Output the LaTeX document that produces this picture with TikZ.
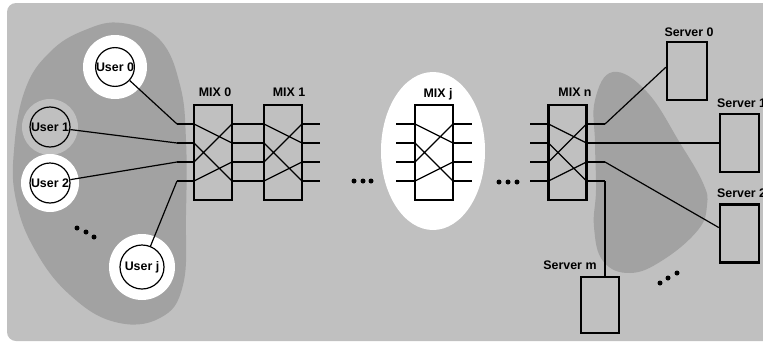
\documentclass[tikz,border=0pt]{standalone}
\usepackage{fontspec}
\setmainfont{Liberation Sans}
\usetikzlibrary{calc}
\definecolor{bgray}{HTML}{C0C0C0}
\definecolor{dgray}{HTML}{A2A2A2}
\begin{document}
\begin{tikzpicture}[x=1pt,y=-1pt,
  lbl/.style={font=\bfseries\fontsize{12.4}{14}\selectfont, inner sep=0pt},
  usernode/.style={circle, draw, line width=1.2pt, inner sep=0pt, fill=white, font=\bfseries\fontsize{12.4}{14}\selectfont},
  mixbox/.style={draw, line width=2.4pt, minimum width=38pt, minimum height=95pt, inner sep=0pt},
  srv/.style={draw, line width=2.4pt, minimum width=39pt, minimum height=58pt, inner sep=0pt},
  wire/.style={line width=1.2pt},
  dot/.style={circle, fill=black, inner sep=0pt, minimum size=5pt},
  pics/mix/.style={code={
    \node[mixbox] (-box) at (0,0) {};
    \coordinate (-l1) at (-19,-28.5); \coordinate (-l2) at (-19,-9.5);
    \coordinate (-l3) at (-19,9.5);   \coordinate (-l4) at (-19,28.5);
    \coordinate (-r1) at (19,-28.5);  \coordinate (-r2) at (19,-9.5);
    \coordinate (-r3) at (19,9.5);    \coordinate (-r4) at (19,28.5);
    \draw[wire] (-l1) -- (-r2) (-l2) -- (-r4) (-l3) -- (-r1) (-l4) -- (-r3);
  }}]
\useasboundingbox (0,0) rectangle (763,343);
\begin{scope}
\clip (0,0) rectangle (763,343);
\fill[bgray, rounded corners=9pt] (7,3) rectangle (790,341);
\end{scope}
% left blob
\fill[dgray] plot[smooth cycle, tension=0.7] coordinates {
  (14,150) (25,90) (50,52) (85,30) (122,23) (160,40) (180,85) (186,140)
  (186,215) (183,285) (160,318) (115,322) (70,295) (35,250) (16,200)};
% right blob
\fill[dgray] plot[smooth cycle, tension=0.7] coordinates {
  (613,72) (647,92) (680,143) (703,183) (707,205) (698,230) (663,260)
  (630,273) (603,261) (594,227) (596,190) (595,143) (595,100)};
% white ellipse around MIX j
\fill[white] (433,151) ellipse [x radius=52, y radius=79];
% halos
\fill[white] (115,67) circle (32);
\fill[bgray] (50,127) circle (28);
\fill[white] (50,183) circle (29);
\fill[white] (142,267) circle (33);
% users
\node[usernode, minimum size=38pt] (u0) at (115,67) {User 0};
\node[usernode, minimum size=40pt, fill=bgray] (u1) at (50,127) {User 1};
\node[usernode, minimum size=40pt] (u2) at (50,183) {User 2};
\node[usernode, minimum size=44pt] (uj) at (142,267) {User j};
% mixes
\pic (m0) at (213,152.5) {mix};
\pic (m1) at (283,152.5) {mix};
\pic (mj) at (434,152.5) {mix};
\pic (mn) at (567.5,152.5) {mix};
\node[lbl] (t0) at (215,92) {MIX 0};
\node[lbl] (t1) at (289,92) {MIX 1};
\node[lbl] (tj) at (438,94) {MIX j};
\node[lbl] (tn) at (575,92) {MIX n};
% user connections
\foreach \i/\y in {1/124,2/143,3/162,4/181} {
  \coordinate (ul\i) at (177,\y);
  \coordinate (m1o\i) at (320,\y);
  \coordinate (mjl\i) at (396,\y);
  \coordinate (mjr\i) at (472,\y);
  \coordinate (mnl\i) at (530,\y);
  \coordinate (mno\i) at (605,\y);
  \draw[wire] (ul\i) -- (m0-l\i);
  \draw[wire] (m0-r\i) -- (m1-l\i);
  \draw[wire] (m1-r\i) -- (m1o\i);
  \draw[wire] (mjl\i) -- (mj-l\i);
  \draw[wire] (mj-r\i) -- (mjr\i);
  \draw[wire] (mnl\i) -- (mn-l\i);
  \draw[wire] (mn-r\i) -- (mno\i);
}
\draw[wire] (u0) -- (ul1);
\draw[wire] (u1) -- (ul2);
\draw[wire] (u2) -- (ul3);
\draw[wire] (uj) -- (ul4);
% servers
\node[srv, minimum width=40pt] (s0) at (687,71) {};
\node[srv] (s1) at (739.5,143) {};
\node[srv] (s2) at (739.5,233.5) {};
\node[srv, minimum width=38pt, minimum height=56pt] (sm) at (600,305) {};
\node[lbl] (ls0) at (689,32) {Server 0};
\node[lbl, anchor=west] (ls1) at (717,103) {Server 1};
\node[lbl, anchor=west] (ls2) at (717,193) {Server 2};
\node[lbl] (lsm) at (570,265) {Server m};
\draw[wire] (mno1) -- (s0.170);
\draw[wire] (mno2) -- (s1.west);
\draw[wire] (mno3) -- (s2.164);
\draw[wire] (mno4) -- (mno4 |- sm.north);
% dots
\node[dot] (d1) at (77,228) {};
\node[dot] (d2) at (86,232) {};
\node[dot] (d3) at (94,237) {};
\node[dot] (d4) at (354,181) {};
\node[dot] (d5) at (363,181) {};
\node[dot] (d6) at (371,181) {};
\node[dot] (d7) at (499,182) {};
\node[dot] (d8) at (508,182) {};
\node[dot] (d9) at (517,182) {};
\node[dot] (d10) at (660,283) {};
\node[dot] (d11) at (668,278) {};
\node[dot] (d12) at (677,273) {};
\end{tikzpicture}
\end{document}
